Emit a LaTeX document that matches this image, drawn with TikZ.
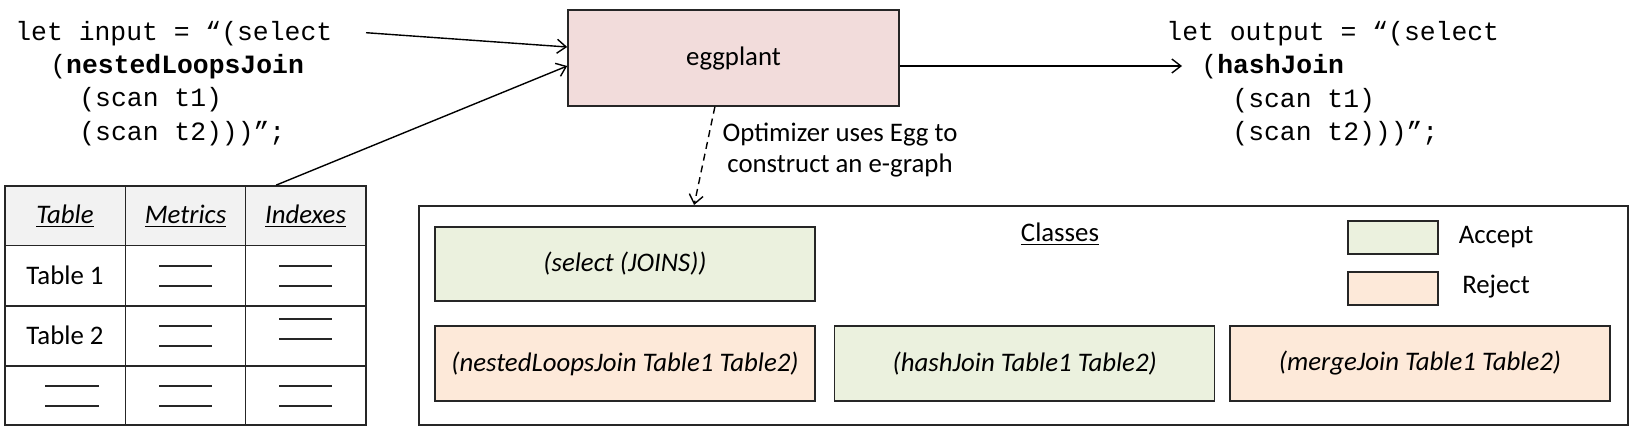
\documentclass[tikz,border=0pt]{standalone}
\usepackage{fontspec}
\setmainfont{Carlito}
\newfontfamily\codefont{Liberation Mono}
\usetikzlibrary{arrows.meta,calc}
\definecolor{eggfill}{HTML}{F2DCDB}
\definecolor{acceptfill}{HTML}{EBF1DE}
\definecolor{rejectfill}{HTML}{FDE9D9}
\definecolor{headfill}{HTML}{F2F2F2}
\definecolor{edge}{HTML}{262626}
\newcommand\mfont{\fontsize{13.4pt}{15.5pt}\selectfont}
\begin{document}
\begin{tikzpicture}[x=0.5pt,y=-0.5pt,
  txt/.style={font=\mfont, inner sep=0pt},
  itxt/.style={font=\mfont\itshape, inner sep=0pt},
  code/.style={font=\codefont\fontsize{13.2pt}{16.65pt}\selectfont, align=left, inner sep=0pt, anchor=base west},
  arr/.style={-{Straight Barb[length=4.5pt,width=7pt]}, line width=0.7pt, black},
  plainbox/.style={draw=edge, line width=0.8pt, inner sep=0pt},
  cls/.style={plainbox, line width=0.6pt, minimum width=190pt, minimum height=37pt, font=\mfont\itshape},
  acceptbox/.style={cls, fill=acceptfill},
  rejectbox/.style={cls, fill=rejectfill},
  legendbox/.style={plainbox, line width=0.6pt, minimum width=45pt, minimum height=16.5pt},
  tline/.style={line width=0.9pt, edge},
  ph/.style={line width=0.6pt, black!85},
]
\useasboundingbox (0,0) rectangle (1638,434);

% code blocks (base anchor = baseline of last line)
\node[code] (incode) at (15,140) {let input = “(select\\
\hspace*{17.5pt}(\textbf{nestedLoopsJoin}\\
\hspace*{32pt}(scan t1)\\
\hspace*{32pt}(scan t2)))”;};
\node[code] (outcode) at (1166,140.5) {let output = “(select\\
\hspace*{17.5pt}(\textbf{hashJoin}\\
\hspace*{33pt}(scan t1)\\
\hspace*{33pt}(scan t2)))”;};

% eggplant
\node[plainbox, fill=eggfill, minimum width=165.5pt, minimum height=48pt, font=\mfont] (egg) at (733.5,58) {eggplant};
\node[txt, align=center] (optlbl) at (840,150) {Optimizer uses Egg to\\construct an e-graph};

% table
\node[fill=headfill, minimum width=180.5pt, minimum height=29.75pt, inner sep=0pt] (thead) at (185.5,215.75) {};
\node[draw=edge, line width=0.9pt, minimum width=180.5pt, minimum height=119.5pt, inner sep=0pt] (tbl) at (185.5,305.5) {};
\draw[tline] (125.5,186) -- (125.5,425);
\draw[tline] (245.5,186) -- (245.5,425);
\draw[tline] (5,245.5) -- (366,245.5);
\draw[tline] (5,306) -- (366,306);
\draw[tline] (5,366) -- (366,366);
\node[itxt, anchor=base] (h1) at (65,223) {\underline{Table}};
\node[itxt, anchor=base] (h2) at (185.5,223) {\underline{Metrics}};
\node[itxt, anchor=base] (h3) at (305.5,223) {\underline{Indexes}};
\node[txt, anchor=base] (r1) at (65,284) {Table 1};
\node[txt, anchor=base] (r2) at (65,344) {Table 2};
\foreach \y in {266,286,326,346,386,406} \draw[ph] (159,\y) -- (212,\y);
\foreach \y in {266,286,319,339,386,406} \draw[ph] (279,\y) -- (332,\y);
\foreach \y in {386,406} \draw[ph] (45,\y) -- (99,\y);

% e-graph container
\node[plainbox, line width=1pt, minimum width=604.5pt, minimum height=109.5pt] (egraph) at (1023.5,315.5) {};
\node[txt, anchor=base] (clslbl) at (1060,241.7) {\underline{Classes}};
\node[acceptbox] (sel) at (625,264) {(select (JOINS))};
\node[rejectbox, minimum height=37.5pt] (nlj) at (625,363.5) {(nestedLoopsJoin Table1 Table2)};
\node[acceptbox, minimum height=37.5pt] (hj) at (1024.75,363.5) {(hashJoin Table1 Table2)};
\node[rejectbox, minimum height=37.5pt] (mj) at (1420,363.5) {(mergeJoin Table1 Table2)};
\node[legendbox, fill=acceptfill] (legA) at (1393,237.5) {};
\node[txt, anchor=base] (legAt) at (1496,243.3) {Accept};
\node[legendbox, fill=rejectfill] (legR) at (1393,288.5) {};
\node[txt, anchor=base] (legRt) at (1496,293.3) {Reject};

% connectors
\coordinate (inA) at (366,32.7);
\draw[arr] (inA) -- ([yshift=5.5pt]egg.west);
\draw[arr] ($(tbl.north west)!0.75!(tbl.north east)$) -- ([yshift=-4pt]egg.west);
\coordinate (outend) at (1182,66);
\draw[arr] ([yshift=-4pt]egg.east) -- (outend);
\draw[arr, dash pattern=on 3.5pt off 2.5pt] ($(egg.south west)!0.444!(egg.south east)$) -- ($(egraph.north west)!0.228!(egraph.north east)$);
\end{tikzpicture}
\end{document}
